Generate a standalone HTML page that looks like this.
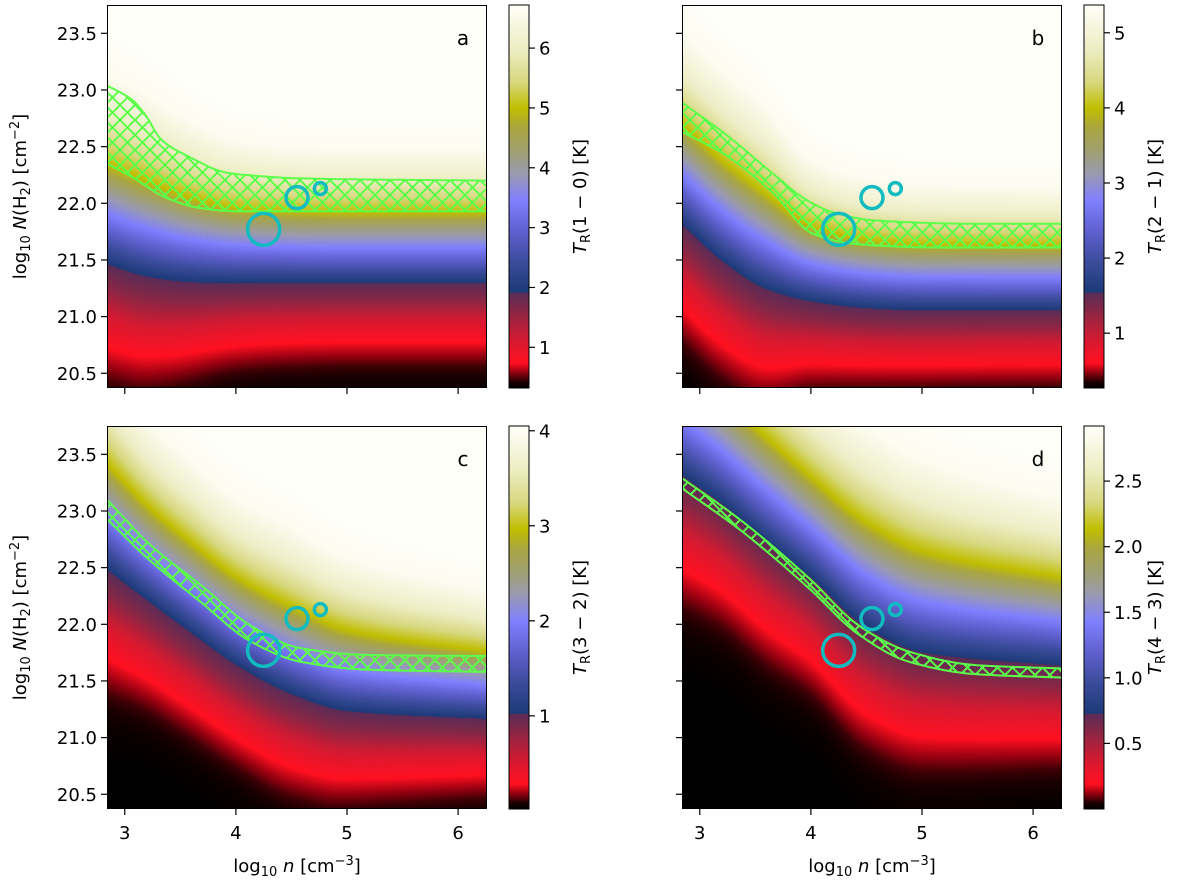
<!DOCTYPE html>
<html><head><meta charset="utf-8"><style>
html,body{margin:0;padding:0;background:#fff;}
#wrap{position:relative;width:1200px;height:886px;overflow:hidden;font-family:"DejaVu Sans","Liberation Sans",sans-serif;}
canvas{position:absolute;}
svg{position:absolute;left:0;top:0;}
</style></head><body>
<div id="wrap">
<canvas id="cv0" width="380" height="383" style="left:107px;top:5px"></canvas>
<canvas id="cv1" width="380" height="383" style="left:682px;top:5px"></canvas>
<canvas id="cv2" width="380" height="383" style="left:107px;top:426px"></canvas>
<canvas id="cv3" width="380" height="383" style="left:682px;top:426px"></canvas>
<svg id="svg" width="1200" height="886" xmlns="http://www.w3.org/2000/svg">
<defs>
<pattern id="hatch" width="15" height="15" patternUnits="userSpaceOnUse">
<path d="M0,0 L15,15 M15,0 L0,15" stroke="#5cff4a" stroke-width="2" fill="none"/>
</pattern>
</defs>
</svg>
</div>
<script>
// axis ranges
const xMin = 2.84, xMax = 6.26, yMin = 20.37, yMax = 23.75;
const xTicks = [3, 4, 5, 6];
const yTicks = [20.5, 21.0, 21.5, 22.0, 22.5, 23.0, 23.5];
const yTickLabels = ["20.5", "21.0", "21.5", "22.0", "22.5", "23.0", "23.5"];
// field reference x nodes
const fieldX = [2.84, 3.2, 3.6, 4.0, 4.5, 5.0, 6.26];
// lower (navy) and upper (yellow) level curves per panel
const levelLowA = [21.47, 21.36, 21.31, 21.30, 21.30, 21.30, 21.30];
const levelHighA = [22.35, 22.20, 22.05, 21.96, 21.93, 21.92, 21.92];
const levelLowB = [21.82, 21.50, 21.25, 21.14, 21.08, 21.06, 21.06];
const levelHighB = [22.70, 22.38, 22.08, 21.80, 21.68, 21.64, 21.63];
const levelLowC = [22.49, 22.22, 21.93, 21.65, 21.39, 21.24, 21.17];
const levelHighC = [23.42, 23.05, 22.72, 22.42, 22.16, 21.95, 21.76];
const levelLowD = [23.32, 23.07, 22.73, 22.42, 21.98, 21.76, 21.64];
const levelHighD = [24.30, 24.00, 23.65, 23.30, 22.90, 22.65, 22.41];
// normalized profile between level curves -> colormap fraction
const profileU = [-1.85, -1.5, -1.2, -0.85, -0.55, -0.25, -0.02, 0, 0.5, 0.8, 1.0, 1.5, 1.9, 2.4];
const profileFrac = [0, 0.006, 0.022, 0.065, 0.12, 0.2, 0.245, 0.252, 0.49, 0.62, 0.73, 0.9, 0.98, 1];
// hatched bands
const bandAUpX = [2.84, 3.07, 3.2, 3.31, 3.58, 3.92, 4.21, 4.57, 6.26];
const bandAUpY = [23.04, 22.91, 22.76, 22.58, 22.41, 22.27, 22.24, 22.22, 22.20];
const bandALoX = [2.84, 3.07, 3.37, 3.67, 4.0, 6.26];
const bandALoY = [22.35, 22.23, 22.05, 21.96, 21.93, 21.93];
const bandBUpX = [2.84, 3.27, 3.66, 3.96, 4.2, 4.56, 5.46, 6.26];
const bandBUpY = [22.89, 22.58, 22.26, 22.03, 21.92, 21.85, 21.82, 21.82];
const bandBLoX = [2.84, 3.21, 3.66, 4.02, 4.41, 5.16, 6.26];
const bandBLoY = [22.63, 22.44, 22.09, 21.73, 21.64, 21.61, 21.61];
const bandCX = [2.84, 3.23, 3.68, 4.13, 4.58, 5.18, 6.26];
const bandCUpY = [23.10, 22.70, 22.35, 21.99, 21.79, 21.73, 21.72];
const bandCLoY = [22.93, 22.56, 22.20, 21.85, 21.67, 21.60, 21.58];
const bandDX = [2.84, 3.38, 3.98, 4.43, 4.88, 5.48, 6.26];
const bandDUpY = [23.29, 22.91, 22.41, 21.99, 21.76, 21.64, 21.61];
const bandDLoY = [23.20, 22.82, 22.32, 21.91, 21.67, 21.56, 21.53];
// observed points (circles)
const circleX = [4.25, 4.55, 4.76];
const circleY = [21.77, 22.05, 22.13];
const circleR = [16, 11, 6];
// colorbar ranges & ticks
const cbarMin = [0.32, 0.27, 0.02, 0.0];
const cbarMax = [6.72, 5.37, 4.05, 2.92];
const cbarTicksA = [1, 2, 3, 4, 5, 6];
const cbarTicksB = [1, 2, 3, 4, 5];
const cbarTicksC = [1, 2, 3, 4];
const cbarTicksD = [0.5, 1.0, 1.5, 2.0, 2.5];
const cbarLabelsD = ["0.5", "1.0", "1.5", "2.0", "2.5"];
const cbarLines = ["(1 \u2212 0) [K]", "(2 \u2212 1) [K]", "(3 \u2212 2) [K]", "(4 \u2212 3) [K]"];
const panelLetters = ["a", "b", "c", "d"];
// colormap
const cmapPos = [0, 0.015, 0.04, 0.065, 0.09, 0.14, 0.21, 0.248, 0.25, 0.33, 0.41, 0.49, 0.56, 0.62, 0.68, 0.73, 0.80, 0.88, 1];
const cmapCol = ["#000000", "#1a0000", "#900010", "#ff1020", "#f01428", "#c81c34", "#802848", "#5a2c58", "#1c3a78", "#3c4c9c", "#6060d0", "#8080ff", "#9a9ab0", "#a0a070", "#aaa640", "#c0be00", "#d8d880", "#ececc0", "#fffffa"];

const W = 380, H = 383;
const panels = [
  {left:107, top:5, low:levelLowA, high:levelHighA, upX:bandAUpX, upY:bandAUpY, loX:bandALoX, loY:bandALoY, cticks:cbarTicksA, clabels:cbarTicksA.map(String), xlab:false, ylab:true},
  {left:682, top:5, low:levelLowB, high:levelHighB, upX:bandBUpX, upY:bandBUpY, loX:bandBLoX, loY:bandBLoY, cticks:cbarTicksB, clabels:cbarTicksB.map(String), xlab:false, ylab:false},
  {left:107, top:426, low:levelLowC, high:levelHighC, upX:bandCX, upY:bandCUpY, loX:bandCX, loY:bandCLoY, cticks:cbarTicksC, clabels:cbarTicksC.map(String), xlab:true, ylab:true},
  {left:682, top:426, low:levelLowD, high:levelHighD, upX:bandDX, upY:bandDUpY, loX:bandDX, loY:bandDLoY, cticks:cbarTicksD, clabels:cbarLabelsD, xlab:true, ylab:false}
];

function interp(xs, ys, x){
  if (x <= xs[0]) return ys[0];
  for (let i = 1; i < xs.length; i++){
    if (x <= xs[i]){ const t = (x - xs[i-1]) / (xs[i] - xs[i-1]); return ys[i-1] + t * (ys[i] - ys[i-1]); }
  }
  return ys[ys.length-1];
}
function smooth(xs, ys, x){
  const n = xs.length;
  if (x <= xs[0]) return ys[0];
  if (x >= xs[n-1]) return ys[n-1];
  let i = 1; while (x > xs[i]) i++;
  const h = [], dlt = [];
  for (let k = 0; k < n - 1; k++){ h.push(xs[k+1] - xs[k]); dlt.push((ys[k+1] - ys[k]) / h[k]); }
  function slope(k){
    if (k === 0) return dlt[0];
    if (k === n - 1) return dlt[n-2];
    if (dlt[k-1] * dlt[k] <= 0) return 0;
    const w1 = 2 * h[k] + h[k-1], w2 = h[k] + 2 * h[k-1];
    return (w1 + w2) / (w1 / dlt[k-1] + w2 / dlt[k]);
  }
  const k = i - 1, t = (x - xs[k]) / h[k];
  const m0 = slope(k), m1 = slope(k + 1);
  const t2 = t * t, t3 = t2 * t;
  return (2*t3 - 3*t2 + 1) * ys[k] + (t3 - 2*t2 + t) * h[k] * m0 + (-2*t3 + 3*t2) * ys[k+1] + (t3 - t2) * h[k] * m1;
}
const cmapRGB = cmapCol.map(h => [parseInt(h.substr(1,2),16), parseInt(h.substr(3,2),16), parseInt(h.substr(5,2),16)]);
function cmap(f){
  return [0,1,2].map(c => interp(cmapPos, cmapRGB.map(v => v[c]), f));
}
function sx(p, x){ return p.left + (x - xMin) / (xMax - xMin) * W; }
function sy(p, y){ return p.top + (yMax - y) / (yMax - yMin) * H; }

panels.forEach((p, k) => {
  const ctx = document.getElementById('cv' + k).getContext('2d');
  const img = ctx.createImageData(W, H);
  const Ls = [], Us = [];
  for (let px = 0; px < W; px++){
    const x = xMin + (px + 0.5) / W * (xMax - xMin);
    Ls.push(smooth(fieldX, p.low, x)); Us.push(smooth(fieldX, p.high, x));
  }
  for (let py = 0; py < H; py++){
    const y = yMax - (py + 0.5) / H * (yMax - yMin);
    for (let px = 0; px < W; px++){
      const L = Ls[px], U = Us[px];
      const f = interp(profileU, profileFrac, (y - L) / (U - L));
      const c = cmap(f);
      const i = (py * W + px) * 4;
      img.data[i] = c[0]; img.data[i+1] = c[1]; img.data[i+2] = c[2]; img.data[i+3] = 255;
    }
  }
  ctx.putImageData(img, 0, 0);
});

const svg = document.getElementById('svg');
const NS = 'http://www.w3.org/2000/svg';
function mk(tag, attrs, parent){
  const e = document.createElementNS(NS, tag);
  for (const a in attrs) e.setAttribute(a, attrs[a]);
  (parent || svg).appendChild(e);
  return e;
}
const defs = svg.querySelector('defs');
const grad = mk('linearGradient', {id:'cmapgrad', x1:'0', y1:'1', x2:'0', y2:'0'}, defs);
cmapPos.forEach((pos, i) => { mk('stop', {offset:pos, 'stop-color':cmapCol[i]}, grad); });

const FS = 18;
panels.forEach((p, k) => {
  const g = mk('g', {});
  
  
  const clip = mk('clipPath', {id:'clip' + k}, defs);
  mk('rect', {x:p.left, y:p.top, width:W, height:H}, clip);
  let d = '';
  const N = 80;
  for (let i = 0; i <= N; i++){
    const x = p.upX[0] + (p.upX[p.upX.length-1] - p.upX[0]) * i / N;
    d += (i ? 'L' : 'M') + sx(p, x).toFixed(1) + ',' + sy(p, smooth(p.upX, p.upY, x)).toFixed(1);
  }
  for (let i = N; i >= 0; i--){
    const x = p.loX[0] + (p.loX[p.loX.length-1] - p.loX[0]) * i / N;
    d += 'L' + sx(p, x).toFixed(1) + ',' + sy(p, smooth(p.loX, p.loY, x)).toFixed(1);
  }
  d += 'Z';
  const band = mk('path', {d:d, fill:'url(#hatch)', stroke:'#5cff4a', 'stroke-width':2, 'clip-path':'url(#clip' + k + ')'}, g);
  
  
  circleX.forEach((cx, i) => {
    const c = mk('circle', {cx:sx(p, cx), cy:sy(p, circleY[i]), r:circleR[i], fill:'none', stroke:'#10bcbf', 'stroke-width':3.5}, g);
    
    
  });
  const fr = mk('rect', {x:p.left + 0.5, y:p.top + 0.5, width:W - 1, height:H - 1, fill:'none', stroke:'#000', 'stroke-width':1}, g);
  
  
  const lt = mk('text', {x:p.left + 356, y:p.top + 40, 'font-size':20, fill:'#000', 'text-anchor':'middle'}, g);
  lt.textContent = panelLetters[k];
  
  
  xTicks.forEach(v => {
    const X = sx(p, v);
    const t = mk('line', {x1:X, x2:X, y1:p.top + H, y2:p.top + H + 6, stroke:'#000', 'stroke-width':1.2}, g);
    
    
    if (p.xlab){
      const tl = mk('text', {x:X, y:p.top + H + 30, 'font-size':FS, 'text-anchor':'middle', fill:'#000'}, g);
      tl.textContent = String(v);
      
      
    }
  });
  yTicks.forEach((v, i) => {
    const Y = sy(p, v);
    const t = mk('line', {x1:p.left - 6, x2:p.left, y1:Y, y2:Y, stroke:'#000', 'stroke-width':1.2}, g);
    
    
    if (p.ylab){
      const tl = mk('text', {x:p.left - 10, y:Y + 6.5, 'font-size':FS, 'text-anchor':'end', fill:'#000'}, g);
      tl.textContent = yTickLabels[i];
      
      
    }
  });
  const cbx = p.left + 402, cbw = 20;
  const cb = mk('rect', {x:cbx, y:p.top, width:cbw, height:H, fill:'url(#cmapgrad)', stroke:'#000', 'stroke-width':1}, g);
  
  
  p.cticks.forEach((v, i) => {
    const Y = p.top + H - (v - cbarMin[k]) / (cbarMax[k] - cbarMin[k]) * H;
    const t = mk('line', {x1:cbx + cbw, x2:cbx + cbw + 6, y1:Y, y2:Y, stroke:'#000', 'stroke-width':1.2}, g);
    
    
    const tl = mk('text', {x:cbx + cbw + 10, y:Y + 6.5, 'font-size':FS, fill:'#000'}, g);
    tl.textContent = p.clabels[i];
    
    
  });
  const cx = p.left + 479, cy = p.top + H / 2;
  const cl = mk('text', {x:cx, y:cy, 'font-size':FS, 'text-anchor':'middle', fill:'#000', transform:'rotate(-90 ' + cx + ' ' + cy + ')'}, g);
  
  
  mk('tspan', {'font-style':'italic'}, cl).textContent = 'T';
  mk('tspan', {'font-size':13, dy:4}, cl).textContent = 'R';
  mk('tspan', {dy:-4}, cl).textContent = cbarLines[k];
  if (p.ylab){
    const ax = 26, ay = p.top + H / 2;
    const yl = mk('text', {x:ax, y:ay, 'font-size':FS, 'text-anchor':'middle', fill:'#000', transform:'rotate(-90 ' + ax + ' ' + ay + ')'}, g);
    
    
    mk('tspan', {}, yl).textContent = 'log';
    mk('tspan', {'font-size':13, dy:4}, yl).textContent = '10';
    mk('tspan', {dy:-4, 'font-style':'italic'}, yl).textContent = ' N';
    mk('tspan', {}, yl).textContent = '(H';
    mk('tspan', {'font-size':13, dy:4}, yl).textContent = '2';
    mk('tspan', {dy:-4}, yl).textContent = ') [cm';
    mk('tspan', {'font-size':13, dy:-7}, yl).textContent = '\u22122';
    mk('tspan', {dy:7}, yl).textContent = ']';
  }
  if (p.xlab){
    const xl = mk('text', {x:p.left + W / 2, y:p.top + H + 63, 'font-size':FS, 'text-anchor':'middle', fill:'#000'}, g);
    
    
    mk('tspan', {}, xl).textContent = 'log';
    mk('tspan', {'font-size':13, dy:4}, xl).textContent = '10';
    mk('tspan', {dy:-4, 'font-style':'italic'}, xl).textContent = ' n';
    mk('tspan', {}, xl).textContent = ' [cm';
    mk('tspan', {'font-size':13, dy:-7}, xl).textContent = '\u22123';
    mk('tspan', {dy:7}, xl).textContent = ']';
  }
});
</script>
</body></html>
